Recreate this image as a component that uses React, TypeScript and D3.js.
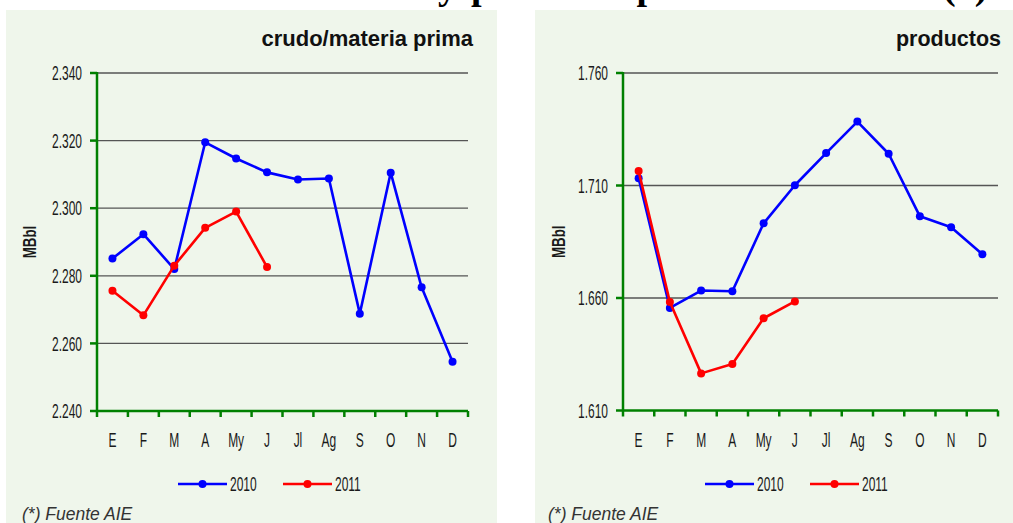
import React from "react";
import * as d3 from "d3";

const months = ["E", "F", "M", "A", "My", "J", "Jl", "Ag", "S", "O", "N", "D"];

const crudo2010 = [2285.1, 2292.3, 2282.0, 2319.5, 2314.7, 2310.6, 2308.5, 2308.8, 2268.8, 2310.5, 2276.6, 2254.6];
const crudo2011 = [2275.6, 2268.3, 2283.0, 2294.2, 2299.0, 2282.6];
const crudoTicks = [2240, 2260, 2280, 2300, 2320, 2340];

const prod2010 = [1713.2, 1655.6, 1663.3, 1663.0, 1693.2, 1710.1, 1724.4, 1738.4, 1724.1, 1696.3, 1691.4, 1679.4];
const prod2011 = [1716.4, 1658.2, 1626.5, 1630.7, 1651.0, 1658.5];
const prodTicks = [1610, 1660, 1710, 1760];

const seriesNames = ["2010", "2011"];
const seriesColors = ["#0000ff", "#ff0000"];

const locale = d3.formatLocale({ decimal: ",", thousands: ".", grouping: [3], currency: ["", ""] });
const fmt = locale.format(",d");

const SANS = "'Liberation Sans', Arial, sans-serif";
const SERIF = "'Liberation Serif', 'Times New Roman', serif";
const AXIS_GREEN = "#008000";

function NText(props: { x: number; y: number; anchor?: string; size?: number; sx?: number; bold?: boolean; children: React.ReactNode }) {
  const { x, y, anchor = "start", size = 20, sx = 0.6, bold = false } = props;
  return (
    <g transform={`translate(${x},${y}) scale(${sx},1)`}>
      <text x={0} y={0} dy="0.36em" textAnchor={anchor} fontFamily={SANS} fontWeight={bold ? "bold" : "normal"} fontSize={size} fill="#1a1a1a">{props.children}</text>
    </g>
  );
}

type PanelProps = {
  bx: number; bw: number;
  x0: number; x1: number; yTop: number; yBot: number;
  ticks: number[];
  s2010: number[]; s2011: number[];
  title: string; titleX: number; titleSize: number;
  yTitleX: number;
  legendX: number;
  sourceX: number;
};

function Panel(p: PanelProps) {
  const x = d3.scaleBand<string>().domain(months).range([p.x0, p.x1]).padding(0);
  const y = d3.scaleLinear().domain([p.ticks[0], p.ticks[p.ticks.length - 1]]).range([p.yBot, p.yTop]);
  const cx = (m: string) => (x(m) as number) + x.bandwidth() / 2;
  const line = d3.line<number>().x((_, i) => cx(months[i])).y((d) => y(d));
  const series = [p.s2010, p.s2011];
  const edges = months.map((m) => x(m) as number).concat([p.x1]);
  return (
    <g>
      <rect x={p.bx} y={10} width={p.bw} height={513} fill="#eff6eb" />
      <text x={p.titleX} y={46} textAnchor="end" fontFamily={SANS} fontWeight="bold" fontSize={p.titleSize} fill="#111">{p.title}</text>
      {p.ticks.slice(1).map((t) => (
        <line key={t} x1={p.x0} x2={p.x1} y1={y(t)} y2={y(t)} stroke="#555" strokeWidth={1.3} />
      ))}
      {p.ticks.map((t) => (
        <g key={"l" + t}>
          <line x1={p.x0 - 7} x2={p.x0} y1={y(t)} y2={y(t)} stroke={AXIS_GREEN} strokeWidth={2.5} />
          <NText x={p.x0 - 15} y={y(t)} anchor="end">{fmt(t)}</NText>
        </g>
      ))}
      <line x1={p.x0} x2={p.x0} y1={p.yTop - 1} y2={p.yBot} stroke={AXIS_GREEN} strokeWidth={2.5} />
      <line x1={p.x0} x2={p.x1} y1={p.yBot} y2={p.yBot} stroke={AXIS_GREEN} strokeWidth={2.5} />
      {edges.map((e, i) => (
        <line key={"t" + i} x1={e} x2={e} y1={p.yBot} y2={p.yBot + 6} stroke={AXIS_GREEN} strokeWidth={2.5} />
      ))}
      {months.map((m) => (
        <NText key={m} x={cx(m)} y={p.yBot + 29} anchor="middle">{m}</NText>
      ))}
      <g transform={`translate(${p.yTitleX},${(p.yTop + p.yBot) / 2}) rotate(-90)`}>
        <NText x={0} y={0} anchor="middle" size={19} sx={0.7} bold>MBbl</NText>
      </g>
      {series.map((s, k) => (
        <g key={"s" + k}>
          <path d={line(s) as string} fill="none" stroke={seriesColors[k]} strokeWidth={2.6} strokeLinejoin="round" />
          {s.map((v, i) => (
            <circle key={i} cx={cx(months[i])} cy={y(v)} r={4} fill={seriesColors[k]} />
          ))}
        </g>
      ))}
      {seriesNames.map((n, k) => {
        const lx = p.legendX + k * 105;
        return (
          <g key={n}>
            <line x1={lx} x2={lx + 49} y1={484} y2={484} stroke={seriesColors[k]} strokeWidth={2.6} />
            <circle cx={lx + 24.5} cy={484} r={4} fill={seriesColors[k]} />
            <NText x={lx + 52} y={484}>{n}</NText>
          </g>
        );
      })}
      <text x={p.sourceX} y={520} fontFamily={SANS} fontStyle="italic" fontSize={17.5} fill="#333">(*) Fuente AIE</text>
    </g>
  );
}

export default function App() {
  return (
    <svg width={1013} height={523} style={{ position: "absolute", left: 0, top: 0, background: "#fff" }}>
      <Panel bx={6} bw={491} x0={97} x1={468} yTop={73} yBot={411} ticks={crudoTicks}
        s2010={crudo2010} s2011={crudo2011} title="crudo/materia prima" titleX={473} titleSize={22}
        yTitleX={29} legendX={178} sourceX={22} />
      <Panel bx={535} bw={478} x0={623} x1={998} yTop={73} yBot={410.5} ticks={prodTicks}
        s2010={prod2010} s2011={prod2011} title="productos" titleX={1001} titleSize={21.5}
        yTitleX={558} legendX={705} sourceX={548} />
      <g fontFamily={SERIF} fontWeight="bold" fontSize={38} fill="#000">
        <text x={457} y={-1.5} textAnchor="end">Stocks de crudo y</text>
        <text x={471} y={-1.5} textLength={462} lengthAdjust="spacing">productos petrolíferos OCDE</text>
        <text x={943} y={-1.5}>(*)</text>
      </g>
    </svg>
  );
}
